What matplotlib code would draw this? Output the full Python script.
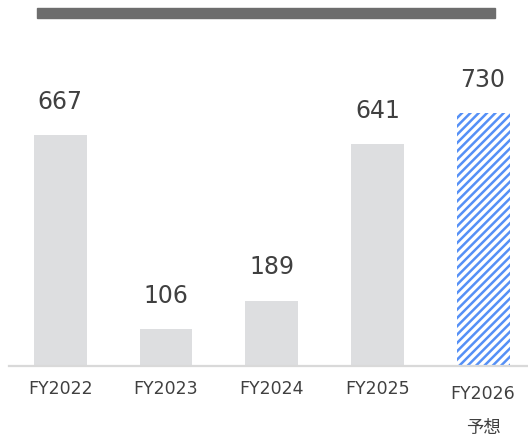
import matplotlib
matplotlib.use("Agg")
import matplotlib.pyplot as plt
from matplotlib.patches import Rectangle
import matplotlib.transforms as mtransforms

plt.rcParams['font.family'] = ['DejaVu Sans', 'Noto Sans CJK JP']
plt.rcParams['hatch.linewidth'] = 1.8

# data
years = ["FY2022", "FY2023", "FY2024", "FY2025", "FY2026"]
values = [667, 106, 189, 641, 730]
forecast_note = "予想"

text_color = "#404040"
bar_gray = "#dddee0"
hatch_blue = "#5590f6"

fig = plt.figure(figsize=(5.28, 4.38), dpi=100)
ax = fig.add_axes([9 / 528, 72 / 438, 519 / 528, 0.6325])

x = list(range(len(years)))
bars = ax.bar(x[:4], values[:4], width=0.5, color=bar_gray, linewidth=0)
fc = ax.bar(x[4], values[4], width=0.5, facecolor="white", edgecolor=hatch_blue,
            hatch="////", linewidth=0)

for xi, v in zip(x, values):
    ax.annotate(str(v), (xi, v), xytext=(0, 19), textcoords="offset points",
                ha="center", va="baseline", fontsize=17, color=text_color)

ax.set_xlim(-0.485, 4.425)
ax.set_ylim(0, 800)
for s in ["top", "right", "left"]:
    ax.spines[s].set_visible(False)
ax.spines["bottom"].set_color("#d9d9d9")
ax.spines["bottom"].set_linewidth(1.6)
ax.set_yticks([])
ax.set_xticks([])

# category labels under the axis
trans = mtransforms.blended_transform_factory(ax.transData, fig.transFigure)
for xi, name in zip(x[:4], years[:4]):
    ax.text(xi, 1 - 389 / 438, name, transform=trans, ha="center", va="center",
            fontsize=12.5, color=text_color)
ax.text(x[4], 1 - 394 / 438, years[4], transform=trans, ha="center", va="center",
        fontsize=12.5, color=text_color)
ax.text(x[4], 1 - 428 / 438, forecast_note, transform=trans, ha="center",
        va="center", fontsize=12.5, color=text_color)

# dark header strip
fig.patches.append(Rectangle((37 / 528, 1 - 18 / 438), 458 / 528, 10 / 438,
                             transform=fig.transFigure, color="#6d6d6d"))

fig.savefig("out.png", dpi=100)
